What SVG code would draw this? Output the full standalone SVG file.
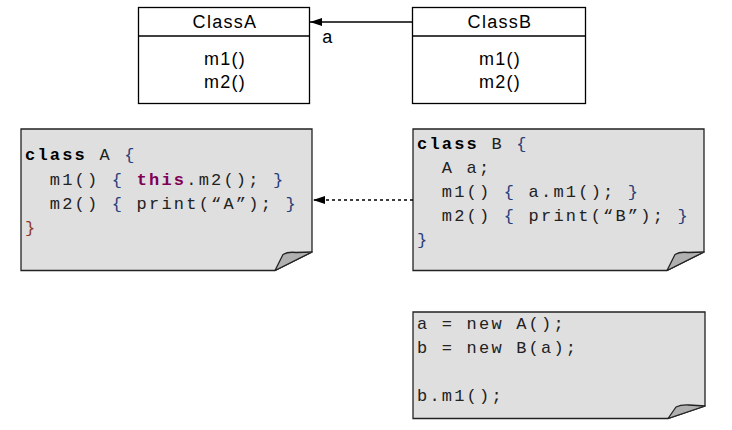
<svg xmlns="http://www.w3.org/2000/svg" width="732" height="430" viewBox="0 0 732 430">
<defs>
<style>
.box{fill:#fff;stroke:#000;stroke-width:1.3}
.uml{font-family:"Liberation Sans",Arial,sans-serif;font-size:18px;letter-spacing:1.3px;fill:#000;text-anchor:middle}
.note{fill:#dfdfdf;stroke:#222;stroke-width:1.3}
.fold{fill:#b0b0b0;stroke:#222;stroke-width:1.3;stroke-linejoin:round}
.code{font-family:"Liberation Mono","Courier New",monospace;font-size:17px;letter-spacing:2.2px;fill:#222;white-space:pre}
.kw{font-weight:bold;fill:#000}
.th{font-weight:bold;fill:#7f0055}
.br{fill:#27407a}
.conn{stroke:#000;stroke-width:1.3;fill:none}
</style>
<marker id="ah" markerWidth="12" markerHeight="10" refX="12" refY="4.5" orient="auto" markerUnits="userSpaceOnUse">
<path d="M0,0.5 L12,4.5 L0,8.5 Z" fill="#000"/>
</marker>
</defs>

<g id="ClassA">
<rect class="box" x="138.5" y="7.5" width="171" height="96"/>
<line class="box" x1="138.5" y1="36" x2="309.5" y2="36"/>
<text class="uml" x="225" y="28">ClassA</text>
<text class="uml" x="225" y="65">m1()</text>
<text class="uml" x="225" y="88">m2()</text>
</g>

<g id="ClassB">
<rect class="box" x="412.5" y="7.5" width="173" height="96"/>
<line class="box" x1="412.5" y1="36" x2="585.5" y2="36"/>
<text class="uml" x="500" y="28">ClassB</text>
<text class="uml" x="500" y="65">m1()</text>
<text class="uml" x="500" y="88">m2()</text>
</g>

<g id="NoteA">
<path class="note" d="M21,129 H312 V252 L275,270.5 H21 Z"/>
<path class="fold" d="M275,270.5 L283,254.5 Q288,251.5 296,252.5 L312,252 Z"/>
<text class="code" x="25" y="160"><tspan class="kw">class</tspan> A <tspan class="br">{</tspan></text>
<text class="code" x="25" y="185">  m1() <tspan class="br">{</tspan> <tspan class="th">this</tspan>.m2(); <tspan class="br">}</tspan></text>
<text class="code" x="25" y="209">  m2() <tspan class="br">{</tspan> print(“A”); <tspan class="br">}</tspan></text>
<text class="code" x="25" y="233"><tspan fill="#8a3a2a">}</tspan></text>
</g>

<g id="NoteB">
<path class="note" d="M413,129 H704 V252 L667,270.5 H413 Z"/>
<path class="fold" d="M667,270.5 L675,254.5 Q680,251.5 688,252.5 L704,252 Z"/>
<text class="code" x="417" y="149"><tspan class="kw">class</tspan> B <tspan class="br">{</tspan></text>
<text class="code" x="417" y="173">  A a;</text>
<text class="code" x="417" y="197">  m1() <tspan class="br">{</tspan> a.m1(); <tspan class="br">}</tspan></text>
<text class="code" x="417" y="221">  m2() <tspan class="br">{</tspan> print(“B”); <tspan class="br">}</tspan></text>
<text class="code" x="417" y="245"><tspan class="br">}</tspan></text>
</g>

<g id="NoteMain">
<path class="note" d="M413,312 H705 V406 L668,418.5 H413 Z"/>
<path class="fold" d="M668,418.5 L676,407 Q681,404.5 689,405 L705,406 Z"/>
<text class="code" x="417" y="329">a = new A();</text>
<text class="code" x="417" y="353">b = new B(a);</text>
<text class="code" x="417" y="401">b.m1();</text>
</g>

<g id="connectors">
<line class="conn" x1="412" y1="22" x2="310" y2="22" marker-end="url(#ah)"/>
<text class="uml" x="328" y="43">a</text>
<line class="conn" x1="413" y1="200" x2="313" y2="200" stroke-dasharray="3,3" marker-end="url(#ah)"/>
</g>
</svg>
